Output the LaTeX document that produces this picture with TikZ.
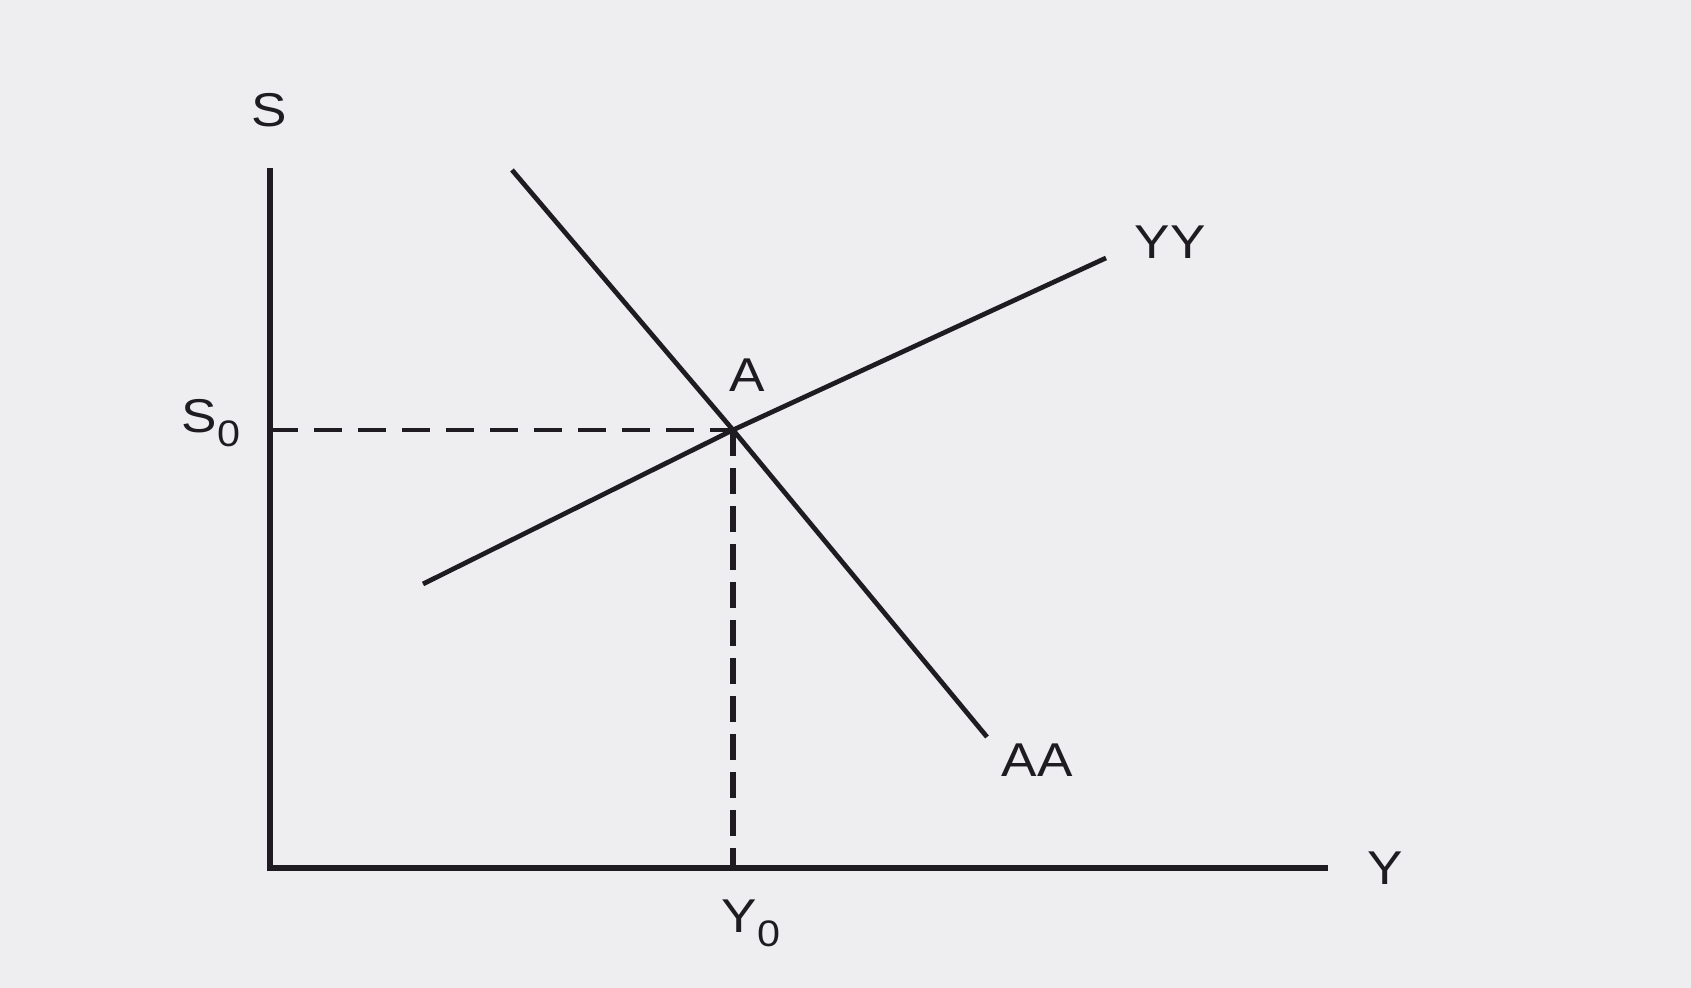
\documentclass[tikz,border=0pt]{standalone}
\usepackage{fontspec}
\setmainfont[FakeStretch=1.12]{Liberation Sans}
\usepackage{xcolor}
\usetikzlibrary{positioning, calc}

\definecolor{paper}{RGB}{238,238,240}
\definecolor{ink}{RGB}{30,28,32}
\newcommand{\sub}[1]{\raisebox{-0.55ex}{\fontsize{10.5}{12}\selectfont #1}}

\begin{document}
\begin{tikzpicture}[
    axis/.style={draw=ink, line width=1.5pt},
    curve/.style={draw=ink, line width=1.35pt},
    guideh/.style={draw=ink, line width=0.9pt, dash pattern=on 0.28cm off 0.16cm},
    guidev/.style={draw=ink, line width=1.7pt, dash pattern=on 0.26cm off 0.12cm},
    lbl/.style={inner sep=0pt, text=ink, font=\fontsize{13.5}{15}\selectfont},
]
\fill[paper] (0,0) rectangle (16.91,9.88);
\useasboundingbox (0,0) rectangle (16.91,9.88);

% axes
\coordinate (O) at (2.70,1.20);
\coordinate (stop) at (2.70,8.20);
\coordinate (yend) at (13.28,1.20);
\draw[axis] (stop) -- (O) -- (yend);
\node[lbl] (s_lbl) at (2.69,8.78) {S};
\node[lbl] (y_lbl) at (13.85,1.20) {Y};

% equilibrium point
\coordinate (A) at (7.33,5.58);
\node[lbl] (a_lbl) at (7.47,6.13) {A};

% AA and YY schedules
\coordinate (aa_top) at (5.12,8.18);
\coordinate (aa_bot) at (9.87,2.51);
\coordinate (yy_left) at (4.23,4.04);
\coordinate (yy_right) at (11.06,7.30);
\draw[curve] (aa_top) -- (A) -- (aa_bot);
\draw[curve] (yy_left) -- (A) -- (yy_right);
\node[lbl] (aa_lbl) at (10.37,2.28) {AA};
\node[lbl] (yy_lbl) at (11.70,7.46) {YY};

% dashed guides
\coordinate (s0_axis) at (O |- A);
\coordinate (y0_axis) at (A |- O);
\draw[guideh] (s0_axis) -- (A);
\draw[guidev] (A) -- (y0_axis);
\node[lbl] (s0_lbl) at (2.11,5.65) {S\sub{0}};
\node[lbl] (y0_lbl) at (7.51,0.65) {Y\sub{0}};

\end{tikzpicture}
\end{document}
